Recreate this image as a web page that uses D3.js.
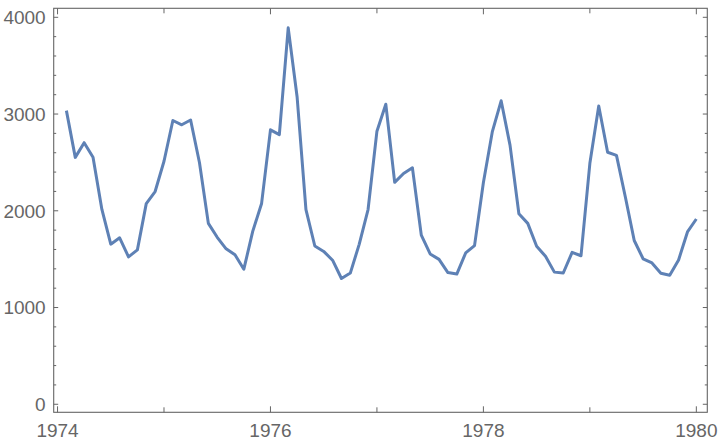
<!DOCTYPE html>
<html><head><meta charset="utf-8">
<script src="https://cdn.jsdelivr.net/npm/d3@7"></script>
<style>body{margin:0;background:#fff}svg{display:block}</style>
</head><body>
<svg id="c" width="720" height="444"></svg>
<script>
const startYear = 1974;
const values = [
3035,2552,2704,2554,2014,1655,1721,1524,1596,2074,2199,2512,
2933,2889,2938,2497,1870,1726,1607,1545,1396,1787,2076,2837,
2787,3891,3179,2011,1636,1580,1489,1300,1356,1653,2013,2823,
3102,2294,2385,2444,1748,1554,1498,1361,1346,1564,1640,2293,
2815,3137,2679,1969,1870,1633,1529,1366,1357,1570,1535,2491,
3084,2605,2573,2143,1693,1504,1461,1354,1333,1492,1781,1915];
const xTickLabels = [1974, 1976, 1978, 1980];
const xMinorTicks = [1975, 1977, 1979];
const yTickLabels = [0, 1000, 2000, 3000, 4000];

const svg = d3.select("#c");
const L = 53.7, R = 707.3, T = 8.3, B = 412.3;
const x = d3.scaleLinear().domain([1973.964, 1980.103]).range([L, R]);
const y = d3.scaleLinear().domain([-83, 4093]).range([B, T]);
const data = values.map((v, i) => ({t: startYear + (i + 1) / 12, v}));

const axisCol = "#666";
const g = svg.append("g");
// frame
g.append("rect").attr("x", L).attr("y", T).attr("width", R - L).attr("height", B - T)
  .attr("fill", "none").attr("stroke", axisCol).attr("stroke-width", 1.1);

const yMinor = d3.range(-0, 4001, 200).filter(v => v % 1000 !== 0);
// y ticks
yTickLabels.forEach(v => {
  g.append("line").attr("x1", L).attr("x2", L + 4.5).attr("y1", y(v)).attr("y2", y(v)).attr("stroke", axisCol);
  g.append("line").attr("x1", R).attr("x2", R - 4.5).attr("y1", y(v)).attr("y2", y(v)).attr("stroke", axisCol);
  g.append("text").attr("x", L - 8).attr("y", y(v)).attr("dy", "0.36em").attr("text-anchor", "end")
    .attr("font-family", "Liberation Sans, Arial, sans-serif").attr("font-size", 19).attr("fill", axisCol).text(v);
});
yMinor.forEach(v => {
  g.append("line").attr("x1", L).attr("x2", L + 2.5).attr("y1", y(v)).attr("y2", y(v)).attr("stroke", axisCol);
  g.append("line").attr("x1", R).attr("x2", R - 2.5).attr("y1", y(v)).attr("y2", y(v)).attr("stroke", axisCol);
});
xTickLabels.forEach(v => {
  g.append("line").attr("x1", x(v)).attr("x2", x(v)).attr("y1", B).attr("y2", B - 6).attr("stroke", axisCol);
  g.append("line").attr("x1", x(v)).attr("x2", x(v)).attr("y1", T).attr("y2", T + 6).attr("stroke", axisCol);
  g.append("text").attr("x", x(v)).attr("y", 437).attr("text-anchor", "middle")
    .attr("font-family", "Liberation Sans, Arial, sans-serif").attr("font-size", 19).attr("fill", axisCol).text(v);
});
xMinorTicks.forEach(v => {
  g.append("line").attr("x1", x(v)).attr("x2", x(v)).attr("y1", B).attr("y2", B - 5).attr("stroke", axisCol);
  g.append("line").attr("x1", x(v)).attr("x2", x(v)).attr("y1", T).attr("y2", T + 5).attr("stroke", axisCol);
});

const line = d3.line().x(d => x(d.t)).y(d => y(d.v));
svg.append("path").datum(data).attr("d", line).attr("fill", "none")
  .attr("stroke", "#5E81B5").attr("stroke-width", 3).attr("stroke-linejoin", "round");
</script>
</body></html>
